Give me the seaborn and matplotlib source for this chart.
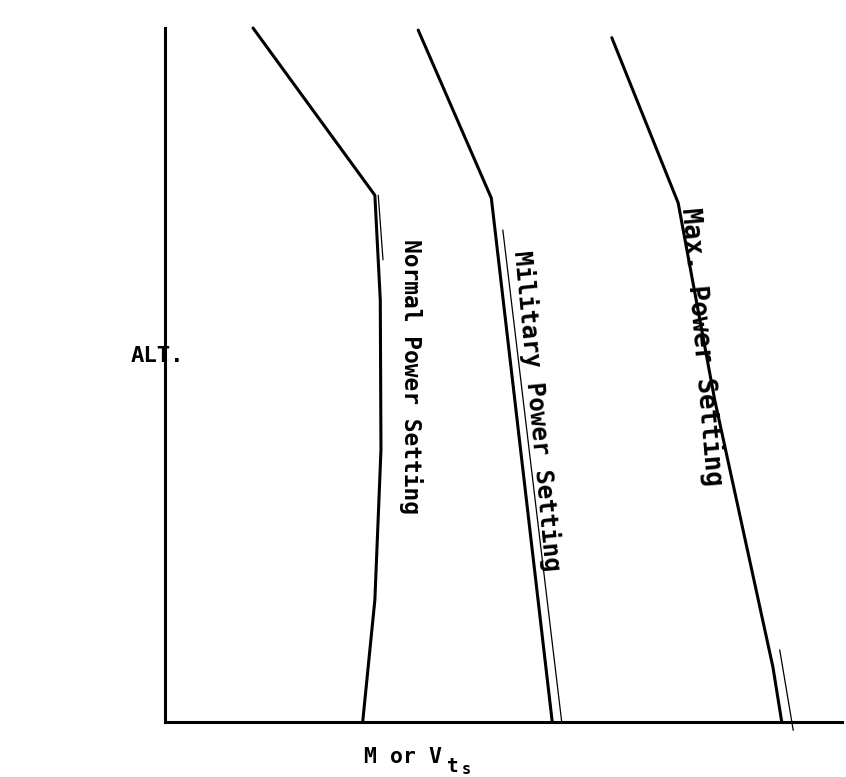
import matplotlib
matplotlib.use("Agg")
import matplotlib.pyplot as plt
import seaborn as sns
import pandas as pd

# ---- data (axis units 0..100) ----
normal_x = [13.0, 31.0, 31.8, 31.9, 31.0, 29.2]
normal_y = [100.0, 75.9, 60.8, 39.2, 17.6, 0.0]
normal_thin_x = [31.5, 32.2]
normal_thin_y = [75.9, 66.6]

military_x = [37.4, 48.2, 57.2]
military_y = [99.7, 75.5, 0.0]
military_thin_x = [49.9, 58.6]
military_thin_y = [70.9, 0.0]

max_x = [66.0, 75.8, 81.2, 89.8, 91.1]
max_y = [98.6, 74.8, 46.4, 7.9, 0.0]
max_thin_x = [90.8, 92.8]
max_thin_y = [10.4, -1.2]

curve_labels = ["Normal Power Setting", "Military Power Setting", "Max. Power Setting"]
label_x = [36.3, 54.9, 79.4]
label_y = [49.8, 44.8, 54.0]
label_rot = [-90, -84.5, -85]
label_size = [16.5, 17.5, 18.5]

y_label = "ALT."
x_label = "M or V"
x_sub1 = "t"
x_sub2 = "s"

sns.set_theme(style="white")
plt.rcParams['font.family'] = ['DejaVu Sans Mono', 'DejaVu Sans']
plt.rcParams['text.color'] = 'black'

fig = plt.figure(figsize=(8.46, 7.77), dpi=100)
ax = fig.add_axes([165 / 846, 55 / 777, 677 / 846, 694 / 777])

main = [(normal_x, normal_y), (military_x, military_y), (max_x, max_y)]
thin = [(normal_thin_x, normal_thin_y), (military_thin_x, military_thin_y),
        (max_thin_x, max_thin_y)]
for xs, ys in main:
    df = pd.DataFrame({"x": xs, "y": ys})
    sns.lineplot(data=df, x="x", y="y", sort=False, estimator=None,
                 color="black", linewidth=2.2, ax=ax)
for xs, ys in thin:
    df = pd.DataFrame({"x": xs, "y": ys})
    sns.lineplot(data=df, x="x", y="y", sort=False, estimator=None,
                 color="black", linewidth=0.9, ax=ax)
for line in ax.lines:
    line.set_clip_on(False)

for txt, x, y, r, fs in zip(curve_labels, label_x, label_y, label_rot, label_size):
    ax.text(x, y, txt, rotation=r, rotation_mode="anchor", ha="center",
            va="center", fontsize=fs, fontweight="bold", color="black")

ax.set_xlim(0, 100)
ax.set_ylim(0, 100)
ax.set_xticks([])
ax.set_yticks([])
ax.set_xlabel("")
ax.set_ylabel("")
sns.despine(ax=ax)
for s in ["left", "bottom"]:
    ax.spines[s].set_color("black")
    ax.spines[s].set_linewidth(2.2)

fig.text(157 / 846, 1 - 356 / 777, y_label, ha="center", va="center",
         fontsize=16, fontweight="bold", color="black")
fig.text(442 / 846, 1 - 757 / 777, x_label, ha="right", va="center",
         fontsize=15.5, fontweight="bold", color="black")
fig.text(453 / 846, 1 - 766 / 777, x_sub1, ha="center", va="center",
         fontsize=14, fontweight="bold", color="black")
fig.text(466 / 846, 1 - 769 / 777, x_sub2, ha="center", va="center",
         fontsize=11, fontweight="bold", color="black")

fig.savefig("out.png", dpi=100)
